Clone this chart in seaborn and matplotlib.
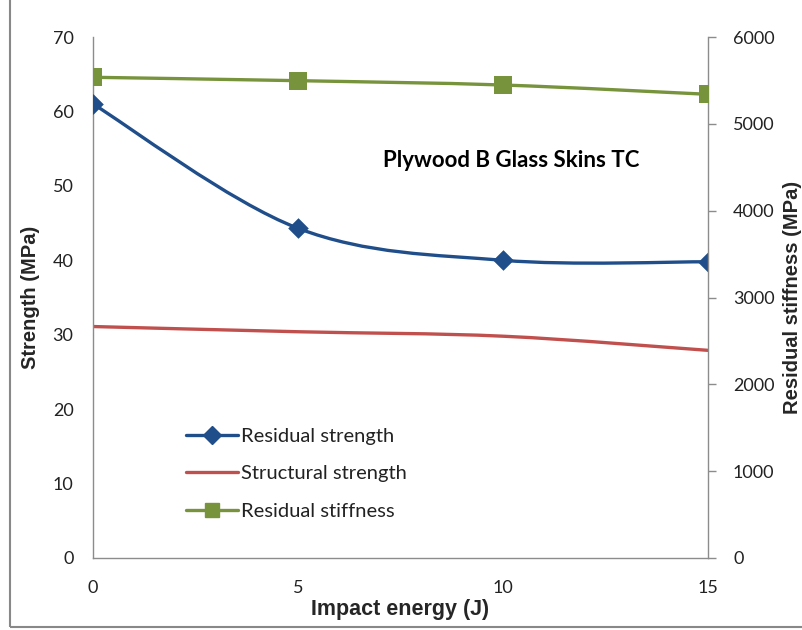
import numpy as np
import matplotlib
matplotlib.use("Agg")
import matplotlib.pyplot as plt
import seaborn as sns
from matplotlib.path import Path
from matplotlib.patches import PathPatch, Rectangle
from matplotlib.lines import Line2D

# ---- data ----
energy = [0, 5, 10, 15]
residual_strength = [61.0, 44.3, 40.0, 39.8]
structural_strength = [31.1, 30.4, 29.8, 27.9]
residual_stiffness = [5536, 5497, 5447, 5340]
series_names = ["Residual strength", "Structural strength", "Residual stiffness"]
title_text = "Plywood B Glass Skins TC"
x_ticks = [0, 5, 10, 15]
y_left_ticks = [0, 10, 20, 30, 40, 50, 60, 70]
y_right_ticks = [0, 1000, 2000, 3000, 4000, 5000, 6000]

BLUE = "#1F4E8A"
RED = "#C0504D"
GREEN = "#77933C"
GRAY = "#8C8C8C"

sns.set_theme(style="white")
plt.rcParams["font.family"] = ["Lato", "DejaVu Sans"]

fig = plt.figure(figsize=(8.02, 6.30), dpi=100)
ax = fig.add_axes([93/802, 1-558/630, (708-93)/802, (558-37)/630])
ax2 = ax.twinx()


def smooth_patch(x, y, color, lw):
    P = np.column_stack([x, y]).astype(float)
    n = len(P)
    verts = [tuple(P[0])]
    codes = [Path.MOVETO]
    for i in range(n - 1):
        p0 = P[i - 1] if i > 0 else P[i]
        p3 = P[i + 2] if i + 2 < n else P[i + 1]
        c1 = P[i] + (P[i + 1] - p0) / 6.0
        c2 = P[i + 1] - (p3 - P[i]) / 6.0
        verts += [tuple(c1), tuple(c2), tuple(P[i + 1])]
        codes += [Path.CURVE4, Path.CURVE4, Path.CURVE4]
    return PathPatch(Path(verts, codes), facecolor="none", edgecolor=color,
                     lw=lw, capstyle="round", joinstyle="round")


# residual strength (left axis)
ax.add_patch(smooth_patch(energy, residual_strength, BLUE, 2.4))
sns.scatterplot(x=energy, y=residual_strength, ax=ax, marker="D", s=110,
                color=BLUE, edgecolor=BLUE, linewidth=0, zorder=5)
# structural strength (left axis)
ax.add_patch(smooth_patch(energy, structural_strength, RED, 2.4))

# residual stiffness (right axis)
ax2.add_patch(smooth_patch(energy, residual_stiffness, GREEN, 2.4))
sns.scatterplot(x=energy, y=residual_stiffness, ax=ax2, marker="s", s=150,
                color=GREEN, edgecolor=GREEN, linewidth=0, zorder=5)

ax.set_xlim(0, 15)
ax.set_ylim(0, 70)
ax2.set_ylim(0, 6000)
ax.set_xticks(x_ticks)
ax.set_yticks(y_left_ticks)
ax2.set_yticks(y_right_ticks)
ax.set_xticklabels([str(v) for v in x_ticks])
ax.set_yticklabels([str(v) for v in y_left_ticks])
ax2.set_yticklabels([str(v) for v in y_right_ticks])

for a in (ax, ax2):
    a.grid(False)
    for s in a.spines.values():
        s.set_color(GRAY)
        s.set_linewidth(1.0)
    a.spines["top"].set_visible(False)
ax.spines["right"].set_visible(False)
ax2.spines["left"].set_visible(False)
ax2.spines["bottom"].set_visible(False)

ax.tick_params(axis="y", length=0, pad=14, labelsize=13, labelcolor="#222222")
ax.tick_params(axis="x", length=0, pad=16, labelsize=13, labelcolor="#222222")
ax2.tick_params(axis="y", direction="out", length=6, width=1, color=GRAY,
                pad=12, labelsize=13, labelcolor="#222222")

ax.set_xlabel("Impact energy (J)", fontsize=15.5, fontweight="bold",
              family=["Liberation Sans", "DejaVu Sans"], labelpad=2)
ax.set_ylabel("Strength (MPa)", fontsize=14.5, fontweight="bold",
              family=["Liberation Sans", "DejaVu Sans"], labelpad=9)
ax2.set_ylabel("Residual stiffness (MPa)", fontsize=14.5, fontweight="bold",
               family=["Liberation Sans", "DejaVu Sans"], labelpad=6)

ax.text((383 - 93) / 615, 1 - (161 - 37) / 521, title_text,
        transform=ax.transAxes, fontsize=16,
        fontweight="bold", color="black", ha="left", va="center")

handles = [
    Line2D([], [], color=BLUE, lw=2.4, marker="D", markersize=9),
    Line2D([], [], color=RED, lw=2.4),
    Line2D([], [], color=GREEN, lw=2.4, marker="s", markersize=10),
]
leg = ax2.legend(handles, series_names, loc="upper left",
                 bbox_to_anchor=((178 - 93) / 615, 1 - (420 - 37) / 521),
                 frameon=False, fontsize=14.5, handlelength=2.6,
                 handletextpad=0.15, labelspacing=1.0, borderaxespad=0)
for t in leg.get_texts():
    t.set_color("#222222")

# chart border
fig.patches.append(Rectangle((10/802, 3/630), 1.2, 1.2, transform=fig.transFigure,
                             fill=False, edgecolor="#888888", lw=1.5))

fig.savefig("out.png", dpi=100)
